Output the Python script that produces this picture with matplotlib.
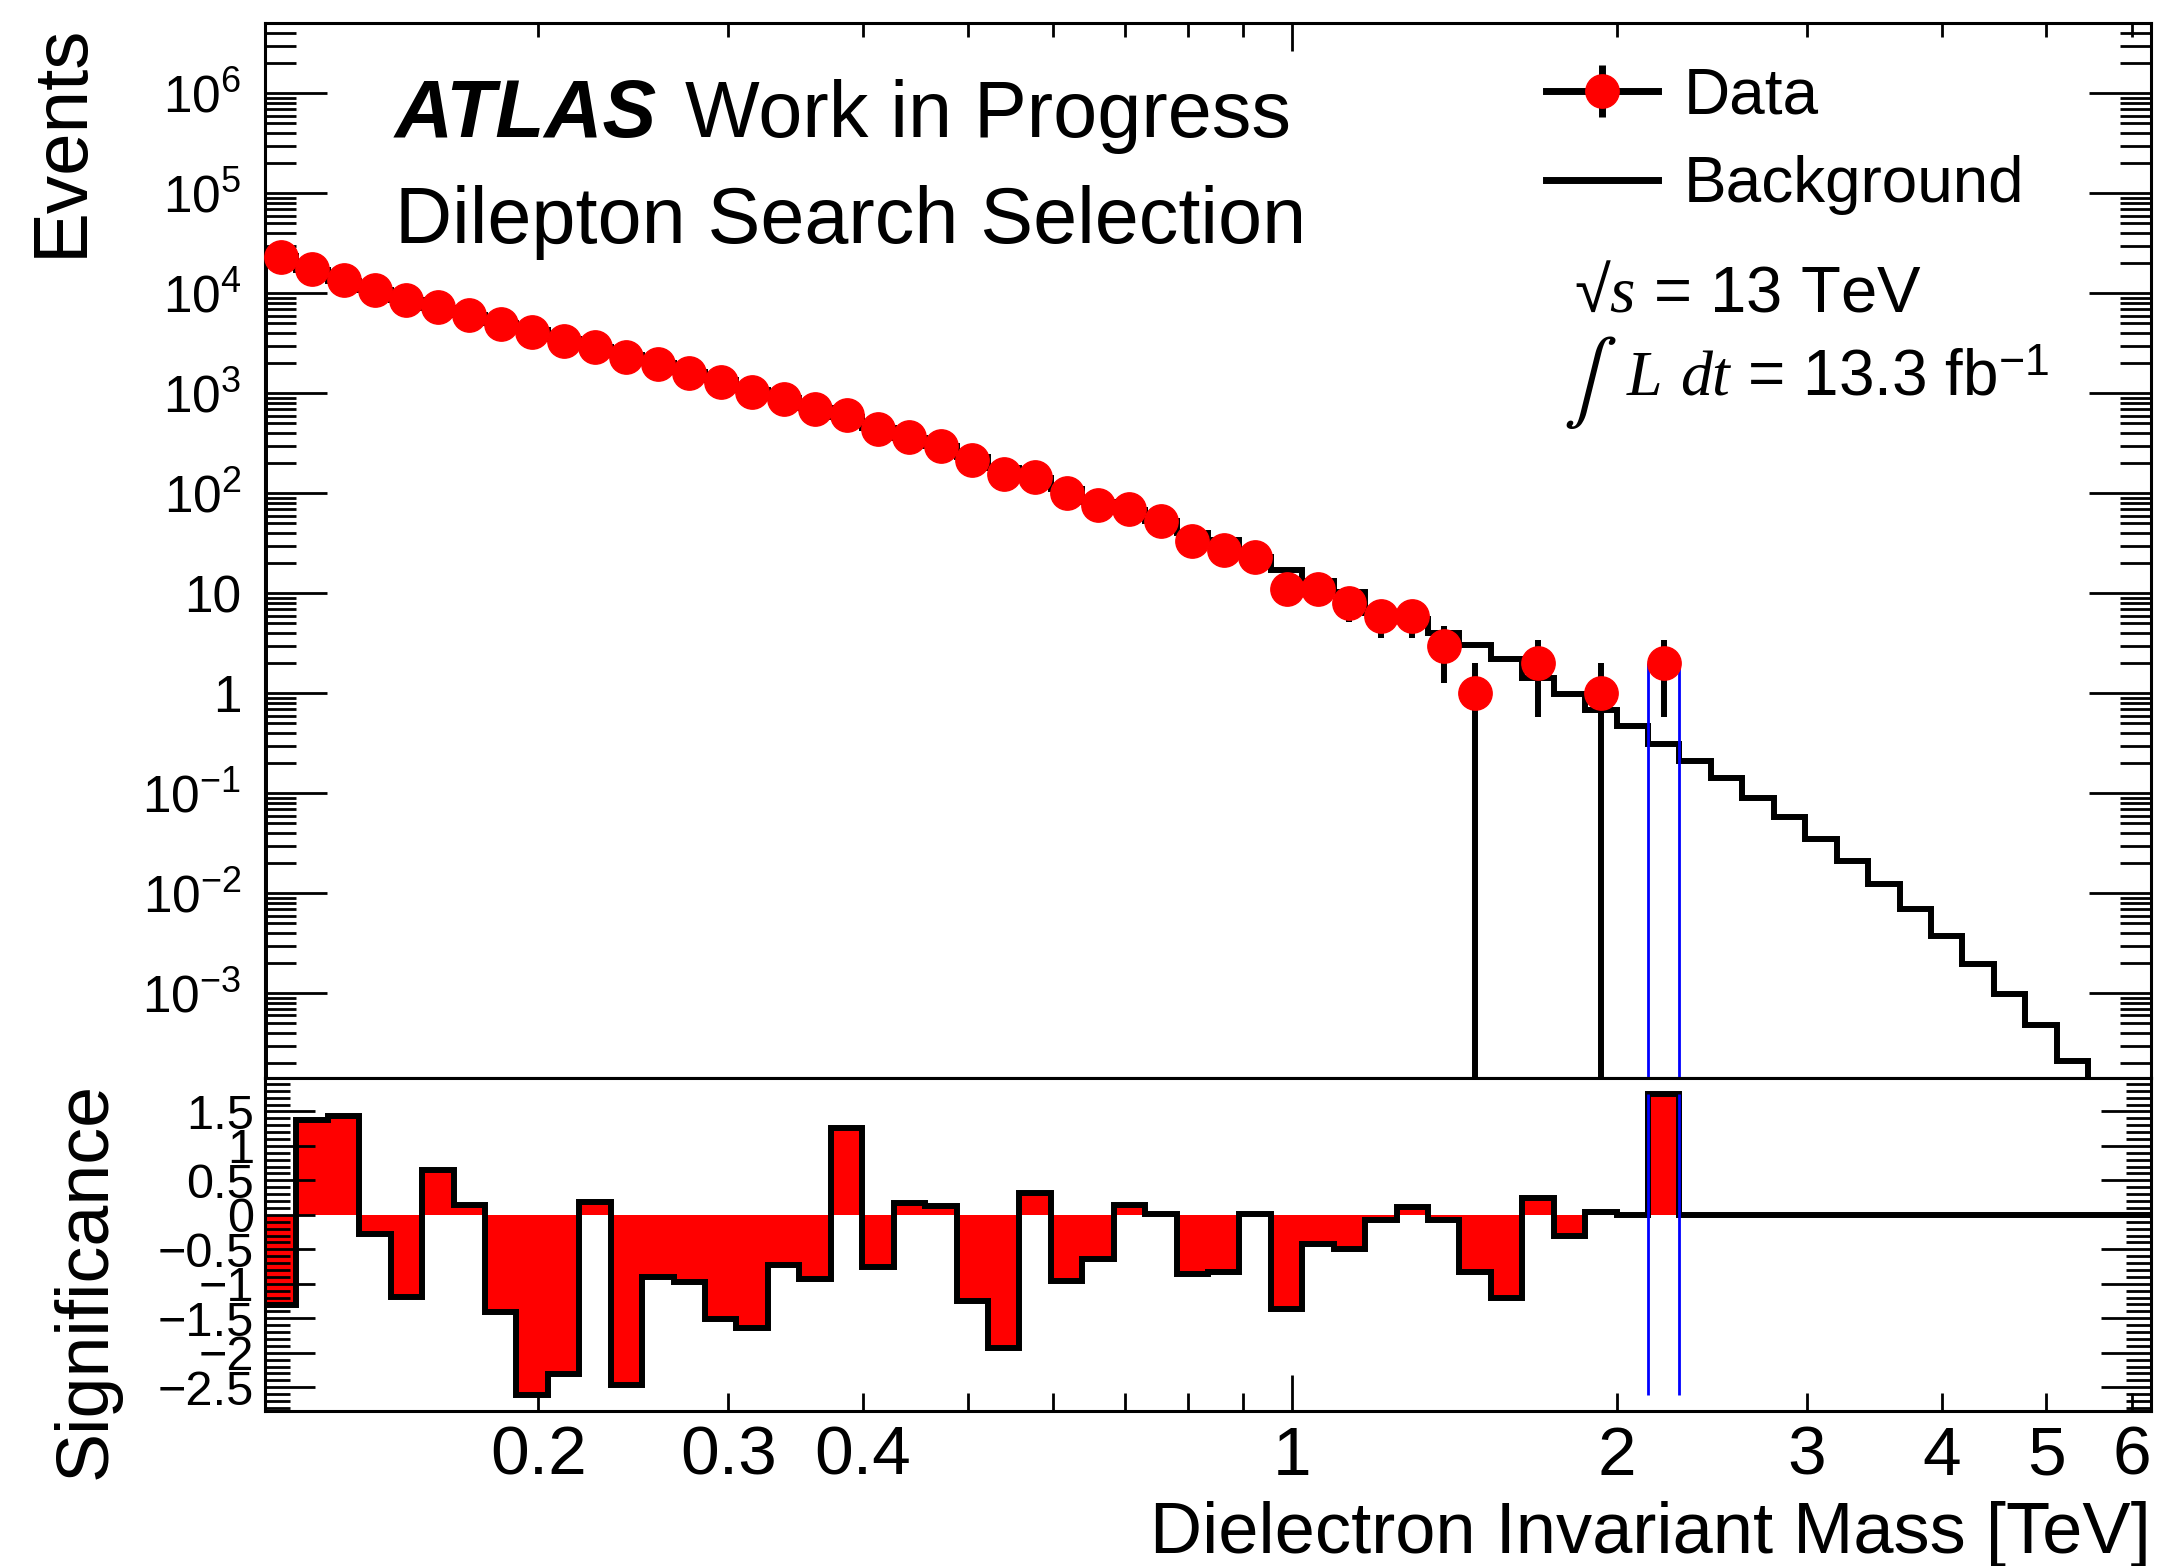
import matplotlib.pyplot as plt
import numpy as np
from matplotlib.legend_handler import HandlerTuple
from matplotlib.lines import Line2D
from matplotlib.ticker import FixedLocator, FuncFormatter, LogLocator, MultipleLocator, NullFormatter

plt.rcParams['font.family'] = ['Liberation Sans', 'DejaVu Sans']
plt.rcParams['mathtext.fontset'] = 'custom'
plt.rcParams['mathtext.rm'] = 'Liberation Sans'
plt.rcParams['mathtext.it'] = 'Liberation Serif:italic'
plt.rcParams['mathtext.bf'] = 'Liberation Sans:bold'

# ----- binning: 60 log-uniform bins in m_ee [TeV] -----
mass_lo, mass_hi, n_bins = 0.1116, 6.25, 60
edges = np.geomspace(mass_lo, mass_hi, n_bins + 1)
centers = np.sqrt(edges[:-1] * edges[1:])

# observed events per bin
data = [23200, 17500, 13600, 10800, 8570, 7240, 6030, 4900, 4100, 3360,
        2920, 2290, 1950, 1610, 1310, 1040, 871, 692, 607, 437,
        363, 297, 215, 156, 145, 101, 76, 69, 53, 33,
        27, 23, 11, 11, 8, 6, 6, 3, 1, 0,
        2, 0, 1, 0, 2, 0, 0, 0, 0, 0,
        0, 0, 0, 0, 0, 0, 0, 0, 0, 0]

# expected background per bin (last two bins fall below the plotted range)
background = [23400, 17320, 13430, 10830, 8680, 7185, 6018, 4999, 4267, 3494,
              2910, 2408, 1990, 1649, 1365, 1093, 893, 716, 576, 453,
              360, 295, 233, 180, 141, 111, 82, 68, 53, 40,
              34, 23, 17, 13.4, 10.4, 6.3, 5.6, 4.0, 3.04, 2.19,
              1.41, 0.98, 0.68, 0.47, 0.31, 0.212, 0.142, 0.090, 0.0577, 0.0349,
              0.0209, 0.0123, 0.0069, 0.00372, 0.00195, 0.000975, 0.000482, 0.000212]

# local significance per bin
significance = [-1.31, 1.38, 1.43, -0.28, -1.19, 0.65, 0.15, -1.41, -2.61, -2.31,
                0.19, -2.47, -0.90, -0.98, -1.51, -1.64, -0.73, -0.93, 1.26, -0.76,
                0.17, 0.13, -1.25, -1.93, 0.31, -0.96, -0.64, 0.15, 0.01, -0.86,
                -0.83, 0.01, -1.36, -0.42, -0.49, -0.08, 0.11, -0.08, -0.83, -1.20,
                0.24, -0.31, 0.04, 0.0, 1.75, 0, 0, 0, 0, 0,
                0, 0, 0, 0, 0, 0, 0, 0, 0, 0]

excess_bin = 44  # most significant bin, marked with blue lines

x_labeled = [0.2, 0.3, 0.4, 2, 3, 4, 5, 6]
x_minor = [0.2, 0.3, 0.4, 0.5, 0.6, 0.7, 0.8, 0.9, 2, 3, 4, 5, 6]

y_top_range = (10 ** -3.85, 10 ** 6.70)
y_bot_range = (-2.84, 1.98)

# ----- figure -----
fig = plt.figure(figsize=(21.62, 15.66), dpi=100)
ax_top = fig.add_axes([0.12257, 0.31143, 0.87234, 0.67363])
ax_bot = fig.add_axes([0.12257, 0.09917, 0.87234, 0.21226])

lw_hist = 4.3
red = '#ff0000'

# upper panel: background histogram + data points
ax_top.set_xscale('log')
ax_top.set_yscale('log')
ax_top.stairs(background, edges[:len(background) + 1], baseline=1e-9,
              color='k', linewidth=lw_hist, zorder=2)

d = np.array(data, dtype=float)
has = d > 0
err = np.sqrt(d)
err_lo = np.where(d - err > 0, d - err, 1e-9)
ax_top.vlines(centers[has], err_lo[has], (d + err)[has], color='k',
              linewidth=lw_hist, zorder=3)
ax_top.vlines(edges[[excess_bin, excess_bin + 1]], 1e-9, data[excess_bin],
              color='blue', linewidth=2, zorder=4)
ax_top.plot(centers[has], d[has], 'o', ms=24, color=red, mec=red, zorder=5,
            clip_on=False)

ax_top.set_xlim(mass_lo, mass_hi)
ax_top.set_ylim(*y_top_range)

# lower panel: significance
sig = np.array(significance)
ax_bot.set_xscale('log')
ax_bot.stairs(sig, edges, baseline=0, fill=True, color=red, linewidth=0, zorder=1)
ax_bot.stairs(sig, edges, baseline=None, color='k', linewidth=lw_hist, zorder=2)
ax_bot.vlines(edges[[excess_bin, excess_bin + 1]], sig.min(), sig.max(),
              color='blue', linewidth=2, zorder=3)
ax_bot.set_xlim(mass_lo, mass_hi)
ax_bot.set_ylim(*y_bot_range)


# ----- ticks -----
def decade_label(v, pos):
    e = int(round(np.log10(v)))
    if e == 0:
        return '1'
    if e == 1:
        return '10'
    return r'$\mathregular{10^{%d}}$' % e


def mass_label(v, pos):
    for t in x_labeled:
        if abs(v - t) < 1e-6:
            return '%g' % t
    return ''


for ax in (ax_top, ax_bot):
    for s in ax.spines.values():
        s.set_linewidth(2.2)
    ax.xaxis.set_major_locator(FixedLocator([1]))
    ax.xaxis.set_minor_locator(FixedLocator(x_minor))

ax_top.yaxis.set_major_locator(LogLocator(base=10, numticks=20))
ax_top.yaxis.set_minor_locator(LogLocator(base=10, subs=np.arange(2, 10), numticks=20))
ax_top.yaxis.set_major_formatter(FuncFormatter(decade_label))
ax_top.yaxis.set_minor_formatter(NullFormatter())
ax_top.tick_params(axis='y', which='both', direction='in', left=True, right=True,
                   width=2, labelsize=37, pad=17)
ax_top.tick_params(axis='y', which='major', length=44.6)
ax_top.tick_params(axis='y', which='minor', length=22)
ax_top.tick_params(axis='x', which='both', direction='in', top=True, bottom=False,
                   labelbottom=False, width=2)
ax_top.tick_params(axis='x', which='major', length=20)
ax_top.tick_params(axis='x', which='minor', length=10)

ax_bot.yaxis.set_major_locator(MultipleLocator(0.5))
ax_bot.yaxis.set_minor_locator(MultipleLocator(0.1))
ax_bot.yaxis.set_major_formatter(
    FuncFormatter(lambda v, p: ('%g' % round(v, 2)).replace('-', '\u2212')))
ax_bot.tick_params(axis='y', which='both', direction='in', left=True, right=True,
                   width=2, labelsize=35, pad=8)
ax_bot.tick_params(axis='y', which='major', length=36)
ax_bot.tick_params(axis='y', which='minor', length=18)
ax_bot.xaxis.set_major_formatter(FuncFormatter(lambda v, p: '1'))
ax_bot.xaxis.set_minor_formatter(FuncFormatter(mass_label))
ax_bot.tick_params(axis='x', which='both', direction='in', top=False, bottom=True,
                   width=2, labelsize=50, pad=10)
ax_bot.tick_params(axis='x', which='major', length=26)
ax_bot.tick_params(axis='x', which='minor', length=13)

# ----- axis titles -----
W, H = 2162.0, 1566.0
fig.text(82 / W, 1 - 23.4 / H, 'Events', rotation=90, rotation_mode='anchor',
         ha='right', va='baseline', fontsize=55)
fig.text(106 / W, 1 - 1082 / H, 'Significance', rotation=90, rotation_mode='anchor',
         ha='right', va='baseline', fontsize=53)
fig.text(2151 / W, 1 - 1553 / H, 'Dielectron Invariant Mass [TeV]',
         ha='right', va='baseline', fontsize=52)

# ----- labels -----
fig.text(395 / W, 1 - 137.5 / H, 'ATLAS', fontsize=58, fontweight='bold',
         fontstyle='italic', va='baseline')
fig.text(685 / W, 1 - 137.5 / H, 'Work in Progress', fontsize=57, va='baseline')
fig.text(395 / W, 1 - 243 / H, 'Dilepton Search Selection', fontsize=57, va='baseline')

fig.text(1574 / W, 1 - 311.7 / H, '\u221a$s$ = 13 TeV', fontsize=47, va='baseline')
fig.text(1563 / W, 1 - 403 / H, r'$\int$', fontsize=58, math_fontfamily='stix',
         va='baseline')
fig.text(1626 / W, 1 - 395 / H, r'$L$ $dt$ = 13.3 fb$^{-1}$', fontsize=46,
         va='baseline')

# ----- legend -----
data_handle = (Line2D([], [], color='k', linewidth=5),
               Line2D([], [], ls='none', marker='|', ms=38, mew=5, color='k'),
               Line2D([], [], ls='none', marker='o', ms=24, color=red, mec=red))
bkg_handle = Line2D([], [], color='k', linewidth=5)
ax_top.legend([data_handle, bkg_handle], ['Data', 'Background'],
              handler_map={tuple: HandlerTuple(ndivide=1)},
              loc='upper left', bbox_to_anchor=(0.6792, 0.959), frameon=False,
              fontsize=46, handlelength=1.76, handletextpad=0.4,
              labelspacing=0.45, borderpad=0, borderaxespad=0)

plt.savefig('out.png', dpi=100)
